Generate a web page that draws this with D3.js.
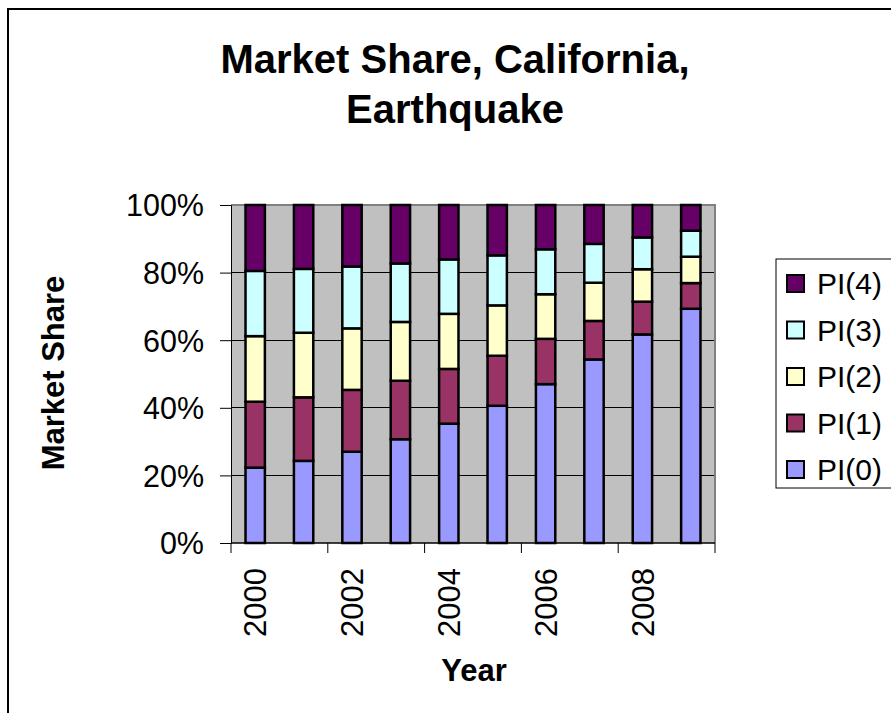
<!DOCTYPE html>
<html>
<head>
<meta charset="utf-8">
<script src="https://cdn.jsdelivr.net/npm/d3@7"></script>
<style>
  html, body { margin: 0; padding: 0; background: #fff; }
  svg { display: block; font-family: "Liberation Sans", Arial, sans-serif; }
</style>
</head>
<body>
<svg id="chart" width="891" height="713"></svg>
<script>
const years = ["2000","2001","2002","2003","2004","2005","2006","2007","2008","2009"];
const seriesNames = ["PI(0)","PI(1)","PI(2)","PI(3)","PI(4)"];
const seriesColors = ["#9999FF","#993366","#FFFFCC","#CCFFFF","#660066"];
const pi0 = [22.3, 24.3, 27.0, 30.7, 35.3, 40.6, 47.0, 54.3, 61.7, 69.3];
const pi1 = [19.5, 18.8, 18.3, 17.3, 16.2, 14.8, 13.4, 11.4,  9.7,  7.6];
const pi2 = [19.4, 19.1, 18.2, 17.4, 16.3, 14.9, 13.2, 11.3,  9.6,  7.8];
const pi3 = [19.3, 18.9, 18.3, 17.3, 16.1, 14.8, 13.3, 11.5,  9.4,  7.7];
const pi4 = [19.5, 18.9, 18.2, 17.3, 16.1, 14.9, 13.1, 11.5,  9.6,  7.6];
const yTicks = [0, 0.2, 0.4, 0.6, 0.8, 1.0];
const xLabelYears = ["2000","2002","2004","2006","2008"];
const titleLines = ["Market Share, California,", "Earthquake"];
const yTitle = "Market Share";
const xTitle = "Year";

const seriesValues = [pi0, pi1, pi2, pi3, pi4];
const rows = years.map((y, i) => {
  const r = { year: y };
  let total = 0;
  seriesNames.forEach((s, k) => { total += seriesValues[k][i]; });
  seriesNames.forEach((s, k) => { r[s] = seriesValues[k][i] / total; });
  return r;
});

const svg = d3.select("#chart");
const L = 231, R = 715, T = 205, B = 543;

// outer chart border
svg.append("rect").attr("x", 8).attr("y", 9).attr("width", 900).attr("height", 720)
  .attr("fill", "none").attr("stroke", "#000").attr("stroke-width", 2);

const x = d3.scaleBand().domain(years).range([L, R]).paddingInner(0.6).paddingOuter(0.3);
const y = d3.scaleLinear().domain([0, 1]).range([B, T]);

// plot background
svg.append("rect").attr("x", L).attr("y", T).attr("width", R - L).attr("height", B - T)
  .attr("fill", "#C0C0C0");

// gridlines
svg.append("g").selectAll("line").data(yTicks.filter(d => d > 0 && d < 1)).join("line")
  .attr("x1", L).attr("x2", R).attr("y1", d => y(d)).attr("y2", d => y(d))
  .attr("stroke", "#000").attr("stroke-width", 1).attr("shape-rendering", "crispEdges");

// plot border top / right (gray)
svg.append("path").attr("d", `M${L},${T}H${R}V${B}`)
  .attr("fill", "none").attr("stroke", "#808080").attr("stroke-width", 2);

// stacked bars
const stack = d3.stack().keys(seriesNames);
const stacked = stack(rows);
svg.append("g").selectAll("g").data(stacked).join("g")
  .attr("fill", (d, i) => seriesColors[i])
  .selectAll("rect").data(d => d).join("rect")
  .attr("x", d => x(d.data.year))
  .attr("width", x.bandwidth())
  .attr("y", d => y(d[1]))
  .attr("height", d => y(d[0]) - y(d[1]))
  .attr("stroke", "#000").attr("stroke-width", 2.5);

// y axis
const yAxis = d3.axisLeft(y).tickValues(yTicks).tickFormat(d3.format(".0%")).tickSize(11).tickPadding(16);
const gy = svg.append("g").attr("transform", `translate(${L},0)`).call(yAxis);
gy.select(".domain").attr("stroke", "#000").attr("stroke-width", 1);
gy.selectAll(".tick line").attr("stroke", "#000");
gy.selectAll(".tick text").attr("font-size", 30.5).attr("fill", "#000")
  .attr("font-family", "'Liberation Sans', Arial, sans-serif").attr("dy", "0.36em");

// x axis: ticks at every second category boundary
const boundaries = d3.range(0, years.length + 1, 2);
const gx = svg.append("g");
gx.append("line").attr("x1", L).attr("x2", R).attr("y1", B).attr("y2", B)
  .attr("stroke", "#000").attr("stroke-width", 1.5);
gx.selectAll("line.tk").data(boundaries).join("line").attr("class", "tk")
  .attr("x1", d => L + d * (R - L) / years.length).attr("x2", d => L + d * (R - L) / years.length)
  .attr("y1", B).attr("y2", B + 10).attr("stroke", "#000").attr("stroke-width", 1);
gx.selectAll("text").data(xLabelYears).join("text")
  .attr("transform", d => `translate(${x(d) + x.bandwidth() / 2},568) rotate(-90)`)
  .attr("text-anchor", "end").attr("dy", "0.36em")
  .attr("font-size", 31).attr("fill", "#000").text(d => d);

// titles
svg.append("text").attr("x", 455).attr("text-anchor", "middle")
  .attr("font-size", 40).attr("font-weight", "bold")
  .selectAll("tspan").data(titleLines).join("tspan")
  .attr("x", 455).attr("y", (d, i) => 73 + i * 50).text(d => d);

svg.append("text").attr("transform", "translate(64,373) rotate(-90)")
  .attr("text-anchor", "middle").attr("font-size", 31).attr("font-weight", "bold").text(yTitle);

svg.append("text").attr("x", 474).attr("y", 681).attr("text-anchor", "middle")
  .attr("font-size", 31).attr("font-weight", "bold").text(xTitle);

// legend
const lg = svg.append("g");
lg.append("rect").attr("x", 776).attr("y", 259).attr("width", 130).attr("height", 229)
  .attr("fill", "#fff").attr("stroke", "#000").attr("stroke-width", 1);
const legendOrder = d3.range(seriesNames.length).reverse();
const li = lg.selectAll("g.item").data(legendOrder).join("g").attr("class", "item")
  .attr("transform", (d, i) => `translate(787,${283.5 + i * 46.5})`);
li.append("rect").attr("x", 0).attr("y", -8.5).attr("width", 17).attr("height", 17)
  .attr("fill", d => seriesColors[d]).attr("stroke", "#000").attr("stroke-width", 2);
li.append("text").attr("x", 30).attr("y", 0).attr("dy", "0.36em")
  .attr("font-size", 30).attr("fill", "#000").text(d => seriesNames[d]);
</script>
</body>
</html>
